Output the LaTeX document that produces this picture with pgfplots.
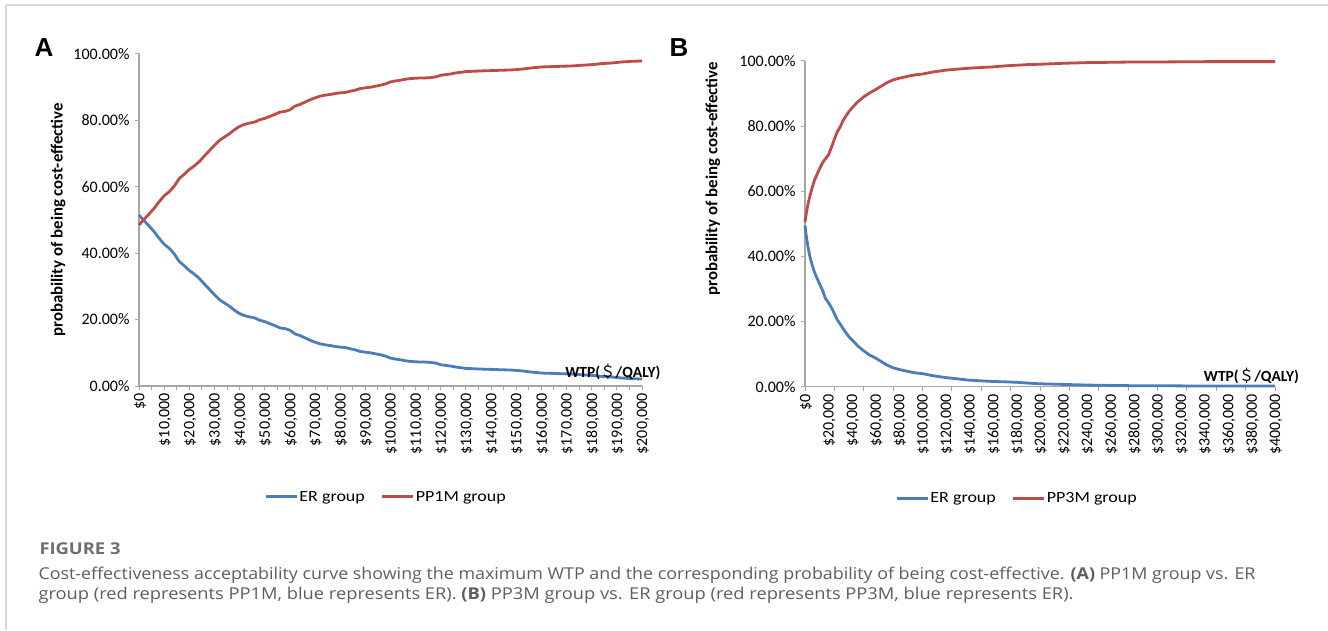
\documentclass[border=0pt]{standalone}
\usepackage{pgfplots}
\pgfplotsset{compat=1.18}
\usepackage{pgfplotstable}
\usepackage{graphicx}
\usepackage{fontspec}
\setmainfont{Carlito}
\newfontfamily\capfont{Open Sans}
\newfontfamily\arialf{Liberation Sans}
\newfontfamily\cjk{Noto Sans CJK SC}
\definecolor{erblue}{HTML}{4A7EBB}
\definecolor{ppred}{HTML}{BE4B48}
\definecolor{axgray}{HTML}{A6A6A6}
\definecolor{capgray}{HTML}{5E5E5E}
\definecolor{figgray}{HTML}{6E6E6E}

\pgfplotstableread{
x pp er
0 48.5 51.5
2000 50.2 49.8
4000 51.8 48.2
6000 53.5 46.5
8000 55.5 44.5
10000 57.3 42.7
12000 58.5 41.5
14000 60.2 39.8
16000 62.5 37.5
18000 63.8 36.2
20000 65.2 34.8
22000 66.3 33.7
24000 67.6 32.4
26000 69.3 30.7
28000 70.9 29.1
30000 72.5 27.5
32000 74.0 26.0
34000 75.0 25.0
36000 76.0 24.0
38000 77.2 22.8
40000 78.2 21.8
42000 78.8 21.2
44000 79.2 20.8
46000 79.5 20.5
48000 80.2 19.8
50000 80.6 19.4
52000 81.2 18.8
54000 81.8 18.2
56000 82.5 17.5
58000 82.7 17.3
60000 83.2 16.8
62000 84.3 15.7
64000 84.8 15.2
66000 85.5 14.5
68000 86.2 13.8
70000 86.8 13.2
72000 87.3 12.7
74000 87.6 12.4
76000 87.8 12.2
78000 88.1 11.9
80000 88.3 11.7
82000 88.4 11.6
84000 88.8 11.2
86000 89.1 10.9
88000 89.6 10.4
90000 89.8 10.2
92000 90.0 10.0
94000 90.3 9.7
96000 90.6 9.4
98000 91.0 9.0
100000 91.6 8.4
102000 91.9 8.1
104000 92.1 7.9
106000 92.4 7.6
108000 92.6 7.4
110000 92.7 7.3
112000 92.8 7.2
114000 92.8 7.2
116000 92.9 7.1
118000 93.1 6.9
120000 93.6 6.4
122000 93.8 6.2
124000 94.0 6.0
126000 94.3 5.7
128000 94.5 5.5
130000 94.7 5.3
133000 94.8 5.2
136000 94.9 5.1
140000 95.0 5.0
144000 95.1 4.9
148000 95.2 4.8
150000 95.3 4.7
153000 95.5 4.5
156000 95.8 4.2
160000 96.1 3.9
164000 96.2 3.8
168000 96.3 3.7
172000 96.4 3.6
176000 96.6 3.4
180000 96.8 3.2
184000 97.1 2.9
188000 97.3 2.7
192000 97.6 2.4
196000 97.8 2.2
200000 97.9 2.1
}\tableA

\pgfplotstableread{
x pp er
0 50.5 49.5
1000 53.0 46.5
2500 56.0 43.0
4000 58.3 40.2
6000 61.0 37.5
8000 63.3 35.2
10000 65.0 33.5
12500 67.0 31.5
15000 68.8 29.5
17500 70.0 27.0
20000 71.2 25.8
22500 73.5 24.3
25000 76.0 22.5
27500 78.3 20.5
30000 79.8 19.2
32500 81.8 17.8
35000 83.2 16.5
37500 84.5 15.3
40000 85.6 14.4
45000 87.5 12.5
50000 89.0 11.0
55000 90.2 9.7
60000 91.2 8.8
65000 92.3 7.7
70000 93.4 6.6
75000 94.2 5.8
80000 94.7 5.3
85000 95.1 4.9
90000 95.5 4.5
95000 95.8 4.2
100000 96.0 4.0
110000 96.7 3.3
120000 97.2 2.8
130000 97.5 2.4
140000 97.8 2.0
150000 98.0 1.8
160000 98.2 1.6
170000 98.5 1.5
180000 98.7 1.35
190000 98.9 1.1
200000 99.0 0.9
220000 99.3 0.7
240000 99.5 0.5
260000 99.6 0.4
280000 99.7 0.3
300000 99.7 0.3
320000 99.75 0.25
340000 99.8 0.2
360000 99.8 0.2
380000 99.8 0.2
400000 99.8 0.2
}\tableB

\newcommand{\lgt}[1]{\scalebox{1.16}[1]{#1}}

\pgfplotsset{
  cea/.style={
    scale only axis,
    axis x line*=bottom, axis y line*=left,
    axis line style={draw=axgray, line width=1.2pt, -},
    ymin=0, ymax=100,
    scaled x ticks=false, scaled y ticks=false,
    ytick={0,20,40,60,80,100},
    yticklabels={0.00\%,20.00\%,40.00\%,60.00\%,80.00\%,100.00\%},
    tick style={draw=axgray, line width=1pt},
    major tick length=4pt, minor tick length=4pt,
    tick align=outside,
    ticklabel style={font=\fontsize{16}{18}\selectfont, text=black},
    yticklabel style={xshift=-2pt},
    xticklabel style={rotate=90, anchor=east, yshift=-1pt},
    ylabel={probability of being cost-effective},
    ylabel style={font=\fontsize{16.8}{18}\selectfont\bfseries, rotate=0},
    clip=false,
    legend columns=2,
    legend style={draw=none, fill=none, inner sep=0pt, font=\fontsize{15.5}{17}\selectfont,
      nodes={inner sep=1pt},
      /tikz/every even column/.append style={column sep=15pt},
      /tikz/every odd column/.append style={column sep=0pt}},
    legend image code/.code={\draw[##1, line width=3pt] (0pt,0pt) -- (31pt,0pt);},
  }
}

\begin{document}
\begin{tikzpicture}[x=1pt,y=1pt]
\path[use as bounding box, fill=white] (0,0) rectangle (1328,630);
\draw[gray!30, line width=2pt] (6,625) -- (1328,625);
\draw[gray!30, line width=2pt] (6,625) -- (6,0);

\node[font=\arialf\bfseries\fontsize{26}{28}\selectfont] at (44,582.5) {A};
\node[font=\arialf\bfseries\fontsize{26}{28}\selectfont] at (679,582.5) {B};

% Panel A
\begin{axis}[cea,
  at={(139pt,244pt)}, anchor=south west,
  width=503pt, height=332pt,
  xmin=0, xmax=200000,
  xtick={0,10000,...,200000},
  minor xtick={0,5000,...,200000},
  xticklabels={{\$0},{\$10,000},{\$20,000},{\$30,000},{\$40,000},{\$50,000},{\$60,000},{\$70,000},{\$80,000},{\$90,000},{\$100,000},{\$110,000},{\$120,000},{\$130,000},{\$140,000},{\$150,000},{\$160,000},{\$170,000},{\$180,000},{\$190,000},{\$200,000}},
  ylabel style={at={(rel axis cs:-0.161,0.5)}, anchor=center},
  legend style={at={(rel axis cs:0.249,-0.334)}, anchor=west},
]
\addplot[erblue, line width=2.8pt] table[x=x, y=er] {\tableA};
\addplot[ppred, line width=2.8pt] table[x=x, y=pp] {\tableA};
\legend{\lgt{ER group}, \lgt{PP1M group}}
\node[font=\fontsize{15.5}{16}\selectfont\bfseries] at (rel axis cs:0.942,0.042) {WTP({\cjk\mdseries ＄}/QALY)};
\end{axis}

% Panel B
\begin{axis}[cea,
  at={(805pt,243.3pt)}, anchor=south west,
  width=470pt, height=325.7pt,
  xmin=0, xmax=400000,
  xtick={0,20000,...,400000},
  minor xtick={0,25000,...,400000},
  every major x tick/.append style={draw=none},
  xticklabels={{\$0},{\$20,000},{\$40,000},{\$60,000},{\$80,000},{\$100,000},{\$120,000},{\$140,000},{\$160,000},{\$180,000},{\$200,000},{\$220,000},{\$240,000},{\$260,000},{\$280,000},{\$300,000},{\$320,000},{\$340,000},{\$360,000},{\$380,000},{\$400,000}},
  ylabel style={at={(rel axis cs:-0.196,0.638)}, anchor=center},
  legend style={at={(rel axis cs:0.192,-0.342)}, anchor=west},
]
\addplot[erblue, line width=2.8pt] table[x=x, y=er] {\tableB};
\addplot[ppred, line width=2.8pt] table[x=x, y=pp] {\tableB};
\legend{\lgt{ER group}, \lgt{PP3M group}}
\node[font=\fontsize{15.5}{16}\selectfont\bfseries] at (rel axis cs:0.95,0.033) {WTP({\cjk\mdseries ＄}/QALY)};
\end{axis}

% Caption
\node[anchor=base west, font=\capfont\fontsize{16.3}{18}\selectfont, text=figgray, inner sep=0pt] at (39.3,76) {\resizebox{81pt}{\height}{\textbf{FIGURE 3}}};
\node[anchor=base west, font=\capfont\fontsize{16.3}{18}\selectfont, text=capgray, inner sep=0pt] at (38.3,50.7) {\resizebox{1217pt}{\height}{Cost-effectiveness acceptability curve showing the maximum WTP and the corresponding probability of being cost-effective. \textbf{(A)} PP1M group vs. ER}};
\node[anchor=base west, font=\capfont\fontsize{16.3}{18}\selectfont, text=capgray, inner sep=0pt] at (38.3,31) {\resizebox{1035pt}{\height}{group (red represents PP1M, blue represents ER). \textbf{(B)} PP3M group vs. ER group (red represents PP3M, blue represents ER).}};
\end{tikzpicture}
\end{document}
